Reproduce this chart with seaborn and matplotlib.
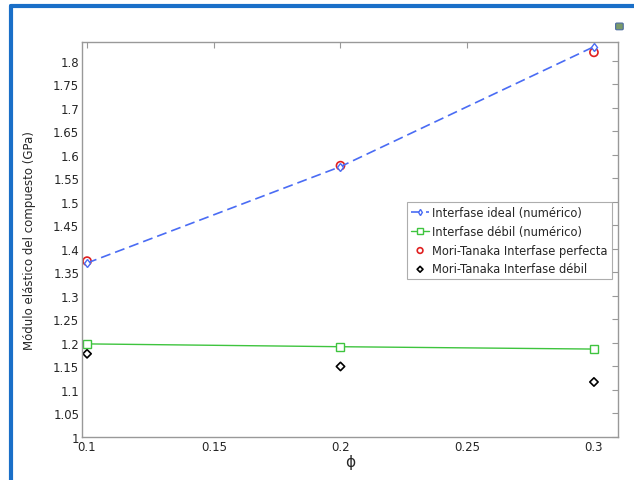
import pandas as pd
import matplotlib.pyplot as plt
import matplotlib.patches as mpatches
import seaborn as sns
from matplotlib.ticker import MultipleLocator, FuncFormatter

phi = [0.1, 0.2, 0.3]
ideal_num = [1.370, 1.575, 1.830]
debil_num = [1.198, 1.192, 1.187]
mt_perfecta = [1.374, 1.577, 1.818]
mt_debil = [1.177, 1.150, 1.117]

labels = ['Interfase ideal (numérico)', 'Interfase débil (numérico)',
          'Mori-Tanaka Interfase perfecta', 'Mori-Tanaka Interfase débil']


def fmt(v, pos):
    s = f'{v:.2f}'.rstrip('0').rstrip('.')
    return s


def main():
    sns.set_style('white')
    plt.rcParams['font.family'] = ['DejaVu Sans']

    df = pd.DataFrame({'phi': phi, 'ideal': ideal_num, 'debil': debil_num,
                       'mtp': mt_perfecta, 'mtd': mt_debil})

    fig = plt.figure(figsize=(6.34, 4.81), dpi=100)
    ax = fig.add_axes([0.1293, 0.0894, 0.8455, 0.8212])

    sns.lineplot(data=df, x='phi', y='ideal', ax=ax, color='#4a6cf4', lw=1.2,
                 linestyle=(0, (6, 3)), marker='d', markersize=4.5,
                 markerfacecolor='white', markeredgecolor='#4a6cf4',
                 markeredgewidth=1, label=labels[0])
    sns.lineplot(data=df, x='phi', y='debil', ax=ax, color='#3ec43e', lw=1.0,
                 marker='s', markersize=5.5, markerfacecolor='white',
                 markeredgecolor='#3ec43e', markeredgewidth=1, label=labels[1])
    sns.scatterplot(data=df, x='phi', y='mtp', ax=ax, marker='o', s=34,
                    facecolor='none', edgecolor='#e02020', linewidth=1.2,
                    label=labels[2])
    sns.scatterplot(data=df, x='phi', y='mtd', ax=ax, marker='D', s=18,
                    facecolor='none', edgecolor='black', linewidth=1.2,
                    label=labels[3])

    ax.set_xlim(0.098, 0.3095)
    ax.set_ylim(1.0, 1.84)
    ax.xaxis.set_major_locator(MultipleLocator(0.05))
    ax.yaxis.set_major_locator(MultipleLocator(0.05))
    ax.xaxis.set_major_formatter(FuncFormatter(fmt))
    ax.yaxis.set_major_formatter(FuncFormatter(fmt))
    ax.tick_params(direction='in', length=4, width=0.8, color='#999999',
                   labelsize=8.5, top=True, right=True, pad=2)
    for sp in ax.spines.values():
        sp.set_color('#999999')
        sp.set_linewidth(1.0)

    ax.set_xlabel('ϕ', fontsize=11, labelpad=1)
    ax.set_ylabel('Módulo elástico del compuesto (GPa)', fontsize=8.5, labelpad=12)

    leg = ax.legend(loc='upper left', bbox_to_anchor=(0.606, 0.595), fontsize=8.3,
                    frameon=True, fancybox=False, edgecolor='#999999',
                    borderpad=0.35, labelspacing=0.5, handlelength=1.6,
                    handletextpad=0.25, borderaxespad=0, markerscale=0.7)
    leg.get_frame().set_linewidth(0.8)

    # blue frame around the window
    fig.add_artist(plt.Line2D([0.017, 0.017], [0.0, 0.985], color='#1a6fc8', lw=3,
                              transform=fig.transFigure))
    fig.add_artist(plt.Line2D([0.017, 1.0], [0.985, 0.985], color='#1a6fc8', lw=3,
                              transform=fig.transFigure))
    # small icon at top right
    fig.add_artist(mpatches.FancyBboxPatch((0.973, 0.938), 0.008, 0.01,
                                           boxstyle='round,pad=0.002',
                                           facecolor='#7a9a6a', edgecolor='#4a6aa0',
                                           lw=0.8, transform=fig.transFigure))

    fig.savefig('out.png', dpi=100)
    plt.close(fig)


if __name__ == '__main__':
    main()
